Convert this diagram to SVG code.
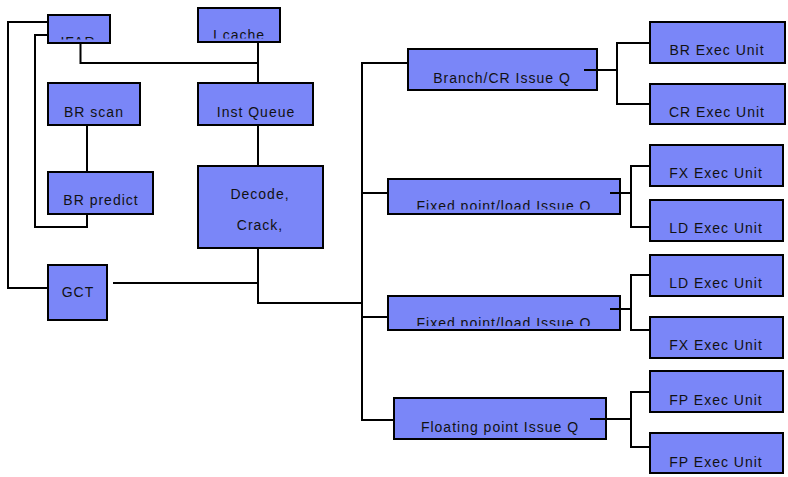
<svg xmlns="http://www.w3.org/2000/svg" width="788" height="477" viewBox="0 0 788 477">
<style>
.box{fill:#7A86F8;stroke:#000;stroke-width:2}
.t{font-family:"Liberation Sans",Arial,sans-serif;font-size:14px;letter-spacing:1px;fill:#111;text-anchor:middle}
.c{fill:none;stroke:#000;stroke-width:2}
</style>
<defs>
<clipPath id="cIFAR"><rect x="48" y="15" width="62" height="24.5"/></clipPath>
<clipPath id="cIC"><rect x="198" y="8" width="82" height="30.5"/></clipPath>
<clipPath id="cFX1"><rect x="388" y="179" width="232" height="30.5"/></clipPath>
<clipPath id="cFX2"><rect x="388" y="296" width="232" height="30"/></clipPath>
</defs>
<rect width="788" height="477" fill="#fff"/>
<g id="ifar"><rect class="box" x="48" y="15" width="62" height="28"/><text class="t" x="78" y="47" clip-path="url(#cIFAR)">IFAR</text></g>
<g id="icache"><rect class="box" x="198" y="8" width="82" height="34"/><text class="t" x="239" y="40" clip-path="url(#cIC)">I cache</text></g>
<g id="brscan"><rect class="box" x="48" y="83" width="92" height="42"/><text class="t" x="94" y="117">BR scan</text></g>
<g id="instq"><rect class="box" x="198" y="83" width="115" height="42"/><text class="t" x="256" y="117">Inst Queue</text></g>
<g id="brpredict"><rect class="box" x="48" y="172" width="105" height="42"/><text class="t" x="101" y="205">BR predict</text></g>
<g id="decode"><rect class="box" x="198" y="166" width="125" height="82"/><text class="t" x="260" y="199">Decode,</text><text class="t" x="260" y="230">Crack,</text></g>
<g id="gct"><rect class="box" x="48" y="265" width="59" height="55"/><text class="t" x="78" y="297">GCT</text></g>
<g id="brq"><rect class="box" x="408" y="49" width="189" height="41"/><text class="t" x="502" y="83">Branch/CR Issue Q</text></g>
<g id="fxq1"><rect class="box" x="388" y="179" width="232" height="35"/><text class="t" x="504" y="211" clip-path="url(#cFX1)">Fixed point/load Issue Q</text></g>
<g id="fxq2"><rect class="box" x="388" y="296" width="232" height="34"/><text class="t" x="504" y="328" clip-path="url(#cFX2)">Fixed point/load Issue Q</text></g>
<g id="fpq"><rect class="box" x="394" y="398" width="212" height="41"/><text class="t" x="500" y="432">Floating point Issue Q</text></g>
<g id="brexec"><rect class="box" x="650" y="22" width="135" height="41"/><text class="t" x="717" y="55">BR Exec Unit</text></g>
<g id="crexec"><rect class="box" x="650" y="84" width="135" height="40"/><text class="t" x="717" y="117">CR Exec Unit</text></g>
<g id="fxexec1"><rect class="box" x="650" y="145" width="133" height="41"/><text class="t" x="716" y="178">FX Exec Unit</text></g>
<g id="ldexec1"><rect class="box" x="650" y="200" width="133" height="41"/><text class="t" x="716" y="233">LD Exec Unit</text></g>
<g id="ldexec2"><rect class="box" x="650" y="255" width="133" height="41"/><text class="t" x="716" y="288">LD Exec Unit</text></g>
<g id="fxexec2"><rect class="box" x="650" y="317" width="133" height="41"/><text class="t" x="716" y="350">FX Exec Unit</text></g>
<g id="fpexec1"><rect class="box" x="650" y="371" width="133" height="41"/><text class="t" x="716" y="405">FP Exec Unit</text></g>
<g id="fpexec2"><rect class="box" x="650" y="433" width="133" height="40"/><text class="t" x="716" y="467">FP Exec Unit</text></g>
<g id="connectors">
<path class="c" d="M48,22 H8 V288 H48"/>
<path class="c" d="M48,35 H35 V227 H87 V214"/>
<path class="c" d="M87,125 V172"/>
<path class="c" d="M80.5,43 V63 H258"/>
<path class="c" d="M258,42 V83"/>
<path class="c" d="M258,125 V166"/>
<path class="c" d="M258,248 V303 H362"/>
<path class="c" d="M113,283 H258"/>
<path class="c" d="M362,63 V420"/>
<path class="c" d="M361,63 H408"/>
<path class="c" d="M361,193 H388"/>
<path class="c" d="M361,317 H388"/>
<path class="c" d="M361,420 H394"/>
<path class="c" d="M584,70 H617"/>
<path class="c" d="M650,43 H617 V104 H650"/>
<path class="c" d="M610,193 H631"/>
<path class="c" d="M650,166 H631 V227 H650"/>
<path class="c" d="M610,309 H631"/>
<path class="c" d="M650,275 H631 V330 H650"/>
<path class="c" d="M590,419 H631"/>
<path class="c" d="M650,392 H631 V447 H650"/>
</g>
</svg>
